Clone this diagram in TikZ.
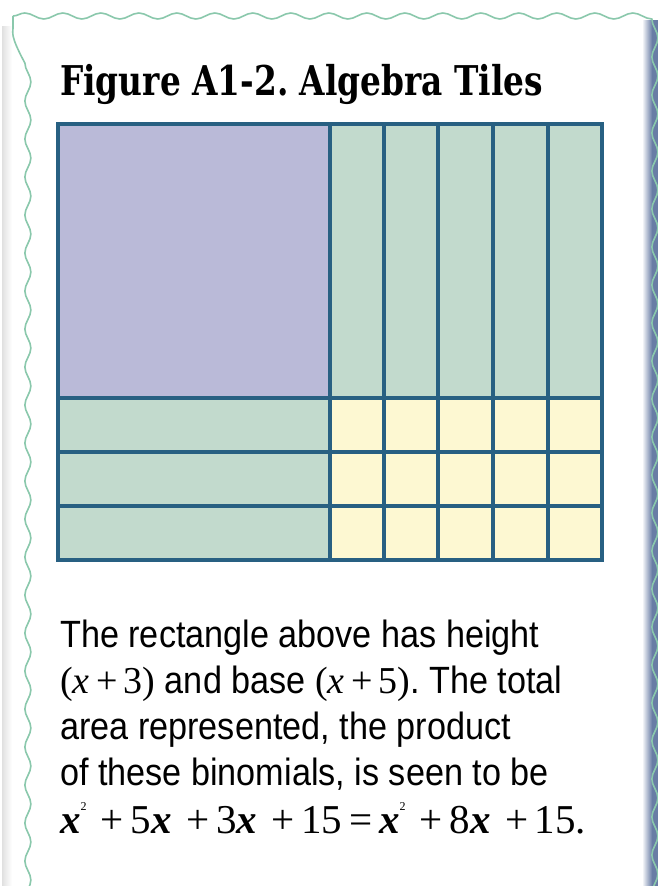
\documentclass[tikz,border=0pt]{standalone}
\usepackage{fontspec}
\usepackage{xcolor}
\usetikzlibrary{decorations.pathmorphing}

\setmainfont[FakeStretch=0.9]{Liberation Sans}
\newfontfamily\titlefont[FakeStretch=0.8]{DejaVu Serif}
\newfontfamily\formfont{Liberation Serif}
\frenchspacing

\definecolor{tileline}{RGB}{40,96,130}
\definecolor{squarefill}{RGB}{186,186,216}
\definecolor{stripfill}{RGB}{194,218,205}
\definecolor{unitfill}{RGB}{253,248,210}
\definecolor{wavegreen}{RGB}{138,200,172}
\definecolor{shadowblue}{RGB}{105,125,165}

\newcommand{\vx}{\textit{x}}
\newcommand{\bx}{{\bfseries\itshape x}}
\newcommand{\sqr}{\raisebox{0.55em}{\fontsize{12}{12}\selectfont 2}}
\newcommand{\gap}{\ \kern4pt}

\begin{document}
\begin{tikzpicture}[x=1pt, y=-1pt,
    tile/.style={draw=tileline, line width=3.5pt},
    wavy/.style={draw=wavegreen, line width=1.6pt, decorate,
        decoration={snake, segment length=38pt, amplitude=3pt}},
    textline/.style={anchor=base west, inner sep=0pt,
        font=\fontsize{38}{44}\selectfont}]
    \useasboundingbox (0,0) rectangle (658,886);
    \fill[white] (0,0) rectangle (658,886);

    % shadow of the card
    \shade[left color=white, right color=shadowblue] (642,20) rectangle (652,886);
    \fill[shadowblue] (652,20) rectangle (658,886);
    \shade[left color=black!12, right color=white] (2,26) rectangle (12,886);

    % wavy edge
    \draw[wavy] (13,16) -- (648,16) -- (648,881) -- (13,881) -- cycle;

    % title
    \node[anchor=base west, inner sep=0pt, font=\titlefont\bfseries\fontsize{41}{48}\selectfont]
        (title) at (60,95) {Figure A1-2. Algebra Tiles};

    % the tiles
    \fill[squarefill] (58,124) rectangle (330,398);
    \fill[stripfill] (330,124) rectangle (602,398);
    \fill[stripfill] (58,398) rectangle (330,560);
    \fill[unitfill] (330,398) rectangle (602,560);
    \draw[tile] (330,124) -- (330,560);
    \draw[tile] (384,124) -- (384,560);
    \draw[tile] (438,124) -- (438,560);
    \draw[tile] (493,124) -- (493,560);
    \draw[tile] (548,124) -- (548,560);
    \draw[tile] (58,398) -- (602,398);
    \draw[tile] (58,452) -- (602,452);
    \draw[tile] (58,506) -- (602,506);
    \draw[tile] (58,124) rectangle (602,560);

    % caption
    \node[textline] (line1) at (60,647) {The rectangle above has height};
    \node[textline] (line2) at (60,693)
        {{\formfont(\vx\,+\,3)} and base {\formfont(\vx\,+\,5)}. The total};
    \node[textline] (line3) at (60,739) {area represented, the product};
    \node[textline] (line4) at (60,785) {of these binomials, is seen to be};
    \node[textline, font=\formfont\fontsize{41}{44}\selectfont] (line5) at (60,833)
        {\bx\sqr\gap+\,5\bx\gap+\,3\bx\gap+\,15\,=\,\bx\sqr\gap+\,8\bx\gap+\,15.};
\end{tikzpicture}
\end{document}
